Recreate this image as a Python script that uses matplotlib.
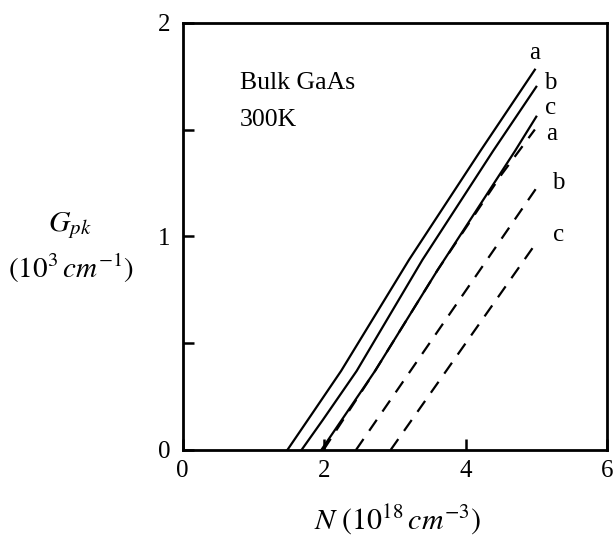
import matplotlib
matplotlib.use("Agg")
import matplotlib.pyplot as plt

plt.rcParams['font.family'] = ['Liberation Serif', 'DejaVu Serif']
plt.rcParams['mathtext.fontset'] = 'stix'

# Solid curves (a, b, c)
solid_a_x = [1.48, 1.83, 2.24, 3.20, 4.21, 4.98]
solid_a_y = [0.00, 0.17, 0.37, 0.89, 1.40, 1.78]
solid_b_x = [1.68, 1.98, 2.46, 3.39, 4.39, 5.00]
solid_b_y = [0.00, 0.14, 0.37, 0.89, 1.40, 1.70]
solid_c_x = [1.96, 2.72, 3.60, 4.70, 5.00]
solid_c_y = [0.00, 0.37, 0.84, 1.40, 1.56]

# Dashed curves (a, b, c)
dash_a_x = [1.99, 2.72, 3.60, 4.51, 4.98]
dash_a_y = [0.00, 0.37, 0.84, 1.29, 1.50]
dash_b_x = [2.45, 5.00]
dash_b_y = [0.00, 1.225]
dash_c_x = [2.94, 5.00]
dash_c_y = [0.00, 0.97]

curve_labels = ['a', 'b', 'c', 'a', 'b', 'c']
label_x = [4.98, 5.20, 5.20, 5.22, 5.31, 5.31]
label_y = [1.86, 1.72, 1.60, 1.48, 1.25, 1.005]

x_ticks = [0, 2, 4, 6]
x_ticklabels = ['0', '2', '4', '6']
y_ticks = [0, 0.5, 1, 1.5, 2]
y_ticklabels = ['0', '', '1', '', '2']

fig = plt.figure(figsize=(6.16, 5.40), dpi=100)
ax = fig.add_axes([0.2966, 0.1667, 0.6888, 0.7913])

lw = 1.6
ax.plot(solid_a_x, solid_a_y, color='black', lw=lw)
ax.plot(solid_b_x, solid_b_y, color='black', lw=lw)
ax.plot(solid_c_x, solid_c_y, color='black', lw=lw)
for xs, ys in [(dash_a_x, dash_a_y), (dash_b_x, dash_b_y), (dash_c_x, dash_c_y)]:
    ax.plot(xs, ys, color='black', lw=lw, linestyle=(0, (6, 4.5)))

for t, x, y in zip(curve_labels, label_x, label_y):
    ax.text(x, y, t, fontsize=18, ha='center', va='center')

ax.text(0.81, 1.72, 'Bulk GaAs', fontsize=18.5, ha='left', va='center')
ax.text(0.81, 1.545, '300K', fontsize=18.5, ha='left', va='center')

ax.set_xlim(0, 6)
ax.set_ylim(0, 2)
ax.set_xticks(x_ticks)
ax.set_xticklabels(x_ticklabels)
ax.set_yticks(y_ticks)
ax.set_yticklabels(y_ticklabels)
ax.tick_params(direction='in', length=8, width=1.8, labelsize=18)
ax.tick_params(axis='x', pad=7)
ax.tick_params(axis='y', pad=9)
for s in ax.spines.values():
    s.set_linewidth(2.0)

fig.text(398 / 616, 1 - 520 / 540, r'$N\ (10^{18}\,cm^{-3})$', fontsize=21.5,
         ha='center', va='center')
fig.text(70 / 616, 1 - 226 / 540, r'$G_{pk}$', fontsize=21.5, ha='center', va='center')
fig.text(71 / 616, 1 - 268 / 540, r'$(10^{3}\,cm^{-1})$', fontsize=21,
         ha='center', va='center')

fig.savefig('out.png', dpi=100)
